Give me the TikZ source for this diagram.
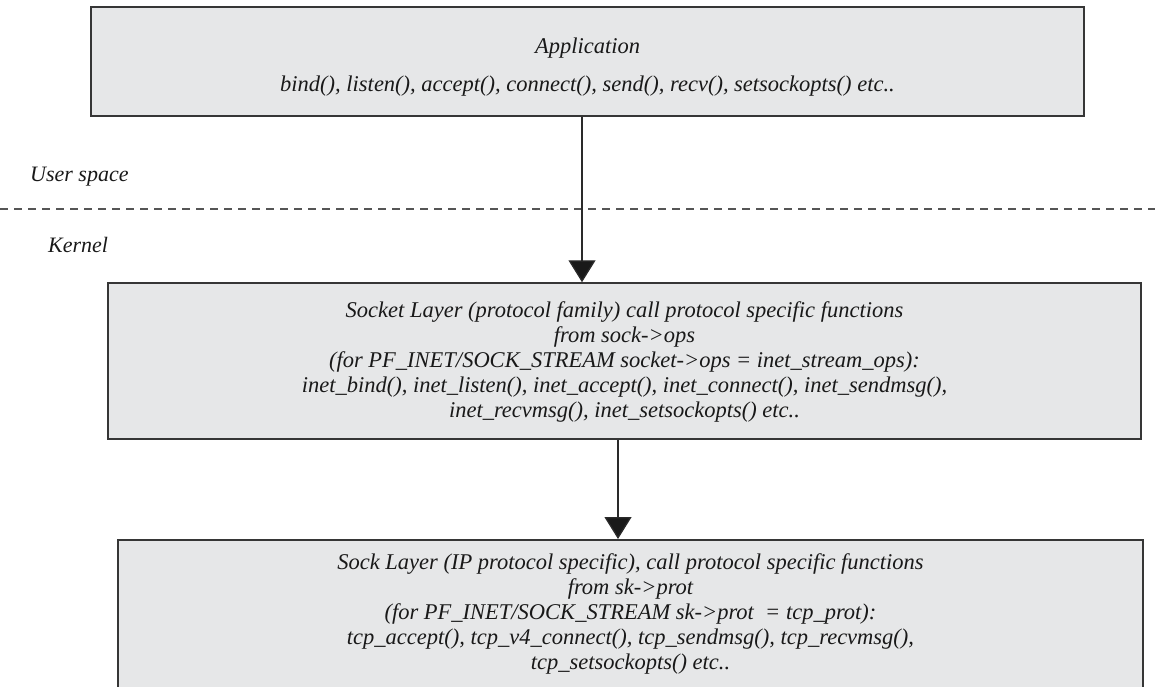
\documentclass[tikz,border=0pt]{standalone}
\usepackage{fontspec}
\setmainfont{Liberation Serif}
\usetikzlibrary{arrows.meta}
\definecolor{boxfill}{HTML}{E6E7E8}
\definecolor{boxline}{HTML}{363636}
\definecolor{lineclr}{HTML}{2A2A2A}
\definecolor{dashclr}{HTML}{555555}
\begin{document}
\begin{tikzpicture}[x=1pt,y=-1pt,
  box/.style={draw=boxline, fill=boxfill, line width=1.5pt, rectangle, inner sep=0pt},
  txt/.style={font=\fontsize{22.5}{25}\selectfont\itshape, align=center, inner sep=0pt, text=black!90},
  lbl/.style={font=\fontsize{22}{25}\selectfont\itshape, inner sep=0pt, anchor=west, text=black!90},
  conn/.style={draw=lineclr, line width=1.3pt, -{Triangle[width=27pt,length=22pt,fill=black!90]}},
  dashline/.style={draw=dashclr, line width=1.2pt, dash pattern=on 8pt off 6pt}]
\useasboundingbox (0,0) rectangle (1155,687);
\clip (0,0) rectangle (1155,687);
% boxes
\node[box, minimum width=993pt, minimum height=109pt] (app) at (587.5,61.5) {};
\node[txt, font=\fontsize{22.5}{38}\selectfont\itshape] (apptxt) at (587.5,67)
  {Application\\bind(), listen(), accept(), connect(), send(), recv(), setsockopts() etc..};
\node[box, minimum width=1033pt, minimum height=156pt] (sock) at (624.5,361) {};
\node[txt] (socktxt) at (624.5,362)
  {Socket Layer (protocol family) call protocol specific functions\\
   from sock->ops\\
   (for PF\_INET/SOCK\_STREAM socket->ops = inet\_stream\_ops):\\
   inet\_bind(), inet\_listen(), inet\_accept(), inet\_connect(), inet\_sendmsg(),\\
   inet\_recvmsg(), inet\_setsockopts() etc..};
\node[box, minimum width=1025pt, minimum height=200pt, anchor=north] (sk) at (630.5,539) {};
\node[txt] (sktxt) at (630.5,614)
  {Sock Layer (IP protocol specific), call protocol specific functions\\
   from sk->prot\\
   (for PF\_INET/SOCK\_STREAM sk->prot\ \ = tcp\_prot):\\
   tcp\_accept(), tcp\_v4\_connect(), tcp\_sendmsg(), tcp\_recvmsg(),\\
   tcp\_setsockopts() etc..};
% user/kernel separator
\coordinate (dl) at (0,209);
\coordinate (dr) at (1155,209);
\draw[dashline] (dl) -- (dr);
\node[lbl] (user) at (30,177) {User space};
\node[lbl] (kern) at (48,245) {Kernel};
% connectors
\coordinate (a1) at (582,0);
\coordinate (a2) at (618,0);
\draw[conn] (a1 |- app.south) -- (a1 |- sock.north);
\draw[conn] (a2 |- sock.south) -- (a2 |- sk.north);
\end{tikzpicture}
\end{document}
